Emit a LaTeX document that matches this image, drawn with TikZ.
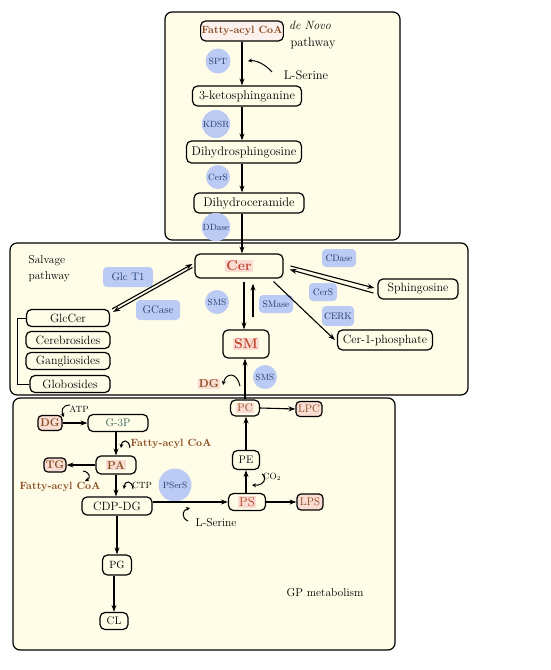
\documentclass[tikz,border=0pt]{standalone}
\usetikzlibrary{arrows.meta}
\definecolor{cream}{HTML}{FFFDE8}
\definecolor{enzblue}{HTML}{BCCBF3}
\definecolor{enztext}{HTML}{1F3A6E}
\definecolor{brownt}{HTML}{8A4B1E}
\definecolor{redt}{HTML}{C0432A}
\definecolor{pinkh}{HTML}{FADDD2}
\definecolor{tealt}{HTML}{2F5F55}
\newcommand{\hlt}[1]{{\setlength{\fboxsep}{1pt}\colorbox{pinkh}{#1}}}
\begin{document}
\begin{tikzpicture}[x=1pt,y=-1pt,font=\fontsize{12.5}{14}\selectfont,
 region/.style={draw,line width=1.2pt,rounded corners=7pt,fill=cream},
 nbox/.style={draw,line width=1.2pt,rounded corners=5pt,fill=cream,inner sep=1pt,minimum height=18pt},
 pbox/.style={nbox,fill=pinkh,text=brownt,font=\fontsize{11}{12}\selectfont\bfseries,rounded corners=4pt},
 enz/.style={circle,fill=enzblue,text=enztext,font=\fontsize{9}{10}\selectfont,inner sep=0.5pt,minimum size=25pt},
 enzr/.style={rounded corners=4pt,fill=enzblue,text=enztext,font=\fontsize{9.5}{11}\selectfont,inner sep=1pt,minimum height=18pt},
 arr/.style={-{Stealth[length=7pt,width=5pt]},line width=1.1pt},
 curv/.style={-{Stealth[length=4pt,width=4pt]},line width=1pt},
 small/.style={font=\fontsize{9}{10}\selectfont},
 brown/.style={text=brownt,font=\fontsize{10.5}{12}\selectfont\bfseries},
 lbl/.style={font=\fontsize{12}{14}\selectfont}]
\fill[white] (0,0) rectangle (550,670);
\path[use as bounding box] (0,0) rectangle (550,670);
% regions
\draw[region] (165,12) rectangle (400,240);
\draw[region] (10,243) rectangle (468,395);
\draw[region] (13,398) rectangle (395,650);

% ---------- de novo ----------
\node[nbox,fill=pinkh!40,text=brownt,font=\fontsize{10.5}{12}\selectfont\bfseries,minimum width=78pt,minimum height=20pt] (fac) at (242,31) {Fatty-acyl CoA};
\node[font=\fontsize{12}{14}\selectfont\itshape] (dn) at (310,25) {de Novo};
\node (dnp) at (313,43) {pathway};
\node[enz] (spt) at (218,61) {SPT};
\node (lser1) at (306,75) {L-Serine};
\node[nbox,minimum width=109pt,minimum height=20pt] (ket) at (247,96) {3-ketosphinganine};
\node[enz,minimum size=26pt] (kdsr) at (216,124) {KDSR};
\node[nbox,minimum width=115pt,minimum height=22pt] (dhs) at (244,152) {Dihydrosphingosine};
\node[enz,minimum size=24pt] (cers1) at (218,177) {CerS};
\node[nbox,minimum width=110pt,minimum height=20pt] (dhc) at (249,203) {Dihydroceramide};
\node[enz,minimum size=26pt] (ddase) at (216,227) {DDase};

% ---------- salvage ----------
\node[align=left,anchor=north west,font=\fontsize{11.5}{16}\selectfont] (salv) at (25,252) {Salvage\\pathway};
\node[enzr,font=\fontsize{11}{12}\selectfont,minimum width=50pt,minimum height=20pt] (glct) at (128,277) {Glc T1};
\node[enzr,font=\fontsize{11}{12}\selectfont,minimum width=44pt,minimum height=20pt] (gcase) at (158,310) {GCase};
\node[enz,minimum size=24pt] (sms1) at (217,302) {SMS};
\node[nbox,minimum width=88pt,minimum height=24pt,text=redt,font=\fontsize{14}{16}\selectfont\bfseries] (cer) at (239,266) {\hlt{Cer}};
\node[nbox,lbl,minimum width=83pt,minimum height=17pt] (glc) at (68,318) {GlcCer};
\node[nbox,lbl,minimum width=84pt,minimum height=17pt] (cereb) at (68,340) {Cerebrosides};
\node[nbox,lbl,minimum width=84pt,minimum height=17pt] (gang) at (68,361) {Gangliosides};
\node[nbox,lbl,minimum width=80pt,minimum height=17pt] (glob) at (70,384) {Globosides};
\coordinate (brk) at (17,0);
\node[enzr,minimum width=34pt] (smase) at (276,304) {SMase};
\node[nbox,minimum width=46pt,minimum height=28pt,text=redt,font=\fontsize{14}{16}\selectfont\bfseries] (sm) at (246,344) {\hlt{SM}};
\node[enz,minimum size=24pt] (sms2) at (265,377) {SMS};
\node[brown,font=\fontsize{11.5}{12}\selectfont\bfseries] (dg1) at (209,384) {\hlt{DG}};
\node[nbox,lbl,minimum width=80pt,minimum height=20pt] (sph) at (418,289) {Sphingosine};
\node[enzr,minimum width=34pt] (cdase) at (339,258) {CDase};
\node[enzr,minimum width=28pt] (cers2) at (323,292) {CerS};
\node[enzr,minimum width=32pt,minimum height=20pt] (cerk) at (338,316) {CERK};
\node[nbox,lbl,minimum width=95pt,minimum height=20pt] (c1p) at (385,340) {Cer-1-phosphate};

% ---------- GP ----------
\node[pbox,minimum width=24pt,minimum height=15pt] (dg2) at (50,423) {DG};
\node[small] (atp) at (79,409) {ATP};
\node[nbox,minimum width=60pt,minimum height=17pt,text=tealt,font=\fontsize{11}{12}\selectfont] (g3p) at (118,423) {G-3P};
\node[brown] (fac2) at (171,444) {Fatty-acyl CoA};
\node[nbox,minimum width=40pt,minimum height=18pt,text=brownt,font=\fontsize{11.5}{12}\selectfont\bfseries] (pa) at (116,465) {\hlt{PA}};
\node[pbox,minimum width=22pt,minimum height=14pt] (tg) at (55,465) {TG};
\node[brown] (fac3) at (60,487) {Fatty-acyl CoA};
\node[small] (ctp) at (142,485) {CTP};
\node[enz,minimum size=33pt] (pserS) at (175,485) {PSerS};
\node[nbox,lbl,minimum width=70pt,minimum height=18pt] (cdp) at (117,506) {CDP-DG};
\node[font=\fontsize{11.5}{12}\selectfont] (lser2) at (216,523) {L-Serine};
\node[nbox,minimum width=37pt,minimum height=17pt,text=redt,font=\fontsize{13}{14}\selectfont] (ps) at (247,502) {\hlt{PS}};
\node[pbox,minimum width=26pt,minimum height=16pt,font=\fontsize{11}{12}\selectfont] (lps) at (310,502) {LPS};
\node[nbox,minimum width=27pt,minimum height=19pt,font=\fontsize{11}{12}\selectfont] (pe) at (246,460) {PE};
\node[small] (co2) at (272,477) {CO$_2$};
\node[nbox,minimum width=29pt,minimum height=16pt,text=brownt,font=\fontsize{11}{12}\selectfont] (pc) at (245,408) {\hlt{PC}};
\node[pbox,minimum width=26pt,minimum height=15pt,font=\fontsize{11}{12}\selectfont] (lpc) at (309,409) {LPC};
\node[nbox,minimum width=29pt,minimum height=20pt,font=\fontsize{10.5}{12}\selectfont] (pg) at (117,565) {PG};
\node[nbox,minimum width=28pt,minimum height=17pt,font=\fontsize{11}{12}\selectfont] (cl) at (114,621) {CL};
\node[font=\fontsize{11.5}{13}\selectfont] (gpm) at (325,593) {GP metabolism};

% ---------- connectors: de novo ----------
\draw[arr] (fac.south -| 242,0) -- (ket.north -| 242,0);
\draw[arr] (ket.south -| 242,0) -- (dhs.north -| 242,0);
\draw[arr] (dhs.south -| 242,0) -- (dhc.north -| 242,0);
\draw[arr] (dhc.south -| 242,0) -- (cer.north -| 242,0);
\coordinate (ls1a) at (272,72);
\coordinate (ls1b) at (248,61);
\draw[curv] (ls1a) .. controls (265,64) and (256,60) .. (ls1b);

% ---------- connectors: salvage ----------
\draw[arr] ([shift={(2pt,0pt)}]glc.north east) -- ([shift={(-2pt,2pt)}]cer.west);
\draw[arr] ([shift={(-2pt,-1.5pt)}]cer.west) -- ([shift={(3pt,-3pt)}]glc.north east);
\draw[line width=1pt] (glc.west) -- (glc.west -| brk) -- (glob.west -| brk) -- (glob.west);
\draw[arr] ([xshift=5pt,yshift=-3pt]cer.south) -- ([xshift=-2pt]sm.north);
\draw[arr] ([xshift=7pt,yshift=12pt]sm.north) -- ([xshift=14pt,yshift=-5pt]cer.south);
\draw[arr] ([xshift=7pt]cer.east) -- ([xshift=-3pt,yshift=1pt]sph.west);
\draw[arr] ([xshift=-4pt,yshift=-4pt]sph.west) -- ([xshift=6pt,yshift=-3.5pt]cer.east);
\draw[arr] ([xshift=-10pt,yshift=-3pt]cer.south east) -- ([xshift=-2pt]c1p.west);
\draw[arr] (pc.north) -- (pc.north |- sm.south);
\coordinate (dga) at (240,386);
\coordinate (dgb) at (223,385);
\draw[curv] (dga) .. controls (237,372) and (226,372) .. (dgb);

% ---------- connectors: GP ----------
\draw[arr] (dg2.east) -- (g3p.west);
\draw[arr] (pa.north |- g3p.south) -- (pa.north);
\draw[arr] (pa.west) -- (tg.east);
\draw[arr] (pa.south) -- (pa.south |- cdp.north);
\draw[arr] (cdp.east |- ps.west) -- (ps.west);
\draw[arr] (ps.east) -- (lps.west);
\draw[arr] (pe.south |- ps.north) -- (pe.south);
\draw[arr] (pe.north) -- (pe.north |- pc.south);
\draw[arr] (pc.east) -- (lpc.west);
\draw[arr] (cdp.south) -- (cdp.south |- pg.north);
\draw[arr] (cl.north |- pg.south) -- (cl.north);
% co-substrate arcs
\coordinate (atpa) at (70,405);
\coordinate (atpb) at (64,417);
\draw[curv] (atpa) .. controls (62,405) and (61,411) .. (atpb);
\coordinate (f2a) at (130,448);
\coordinate (f2b) at (121,448);
\draw[curv] (f2a) .. controls (129,439) and (122,439) .. (f2b);
\coordinate (f3a) at (83,471);
\coordinate (f3b) at (85,481);
\draw[curv] (f3a) .. controls (90,472) and (91,478) .. (f3b);
\coordinate (ctpa) at (133,489);
\coordinate (ctpb) at (124,489);
\draw[curv] (ctpa) .. controls (132,480) and (125,480) .. (ctpb);
\coordinate (lsa) at (188,521);
\coordinate (lsb) at (190,508);
\draw[curv] (lsa) .. controls (181,518) and (182,510) .. (lsb);
\coordinate (co2a) at (262,474);
\coordinate (co2b) at (252,485);
\draw[curv] (co2a) .. controls (268,477) and (264,486) .. (co2b);
\end{tikzpicture}
\end{document}
